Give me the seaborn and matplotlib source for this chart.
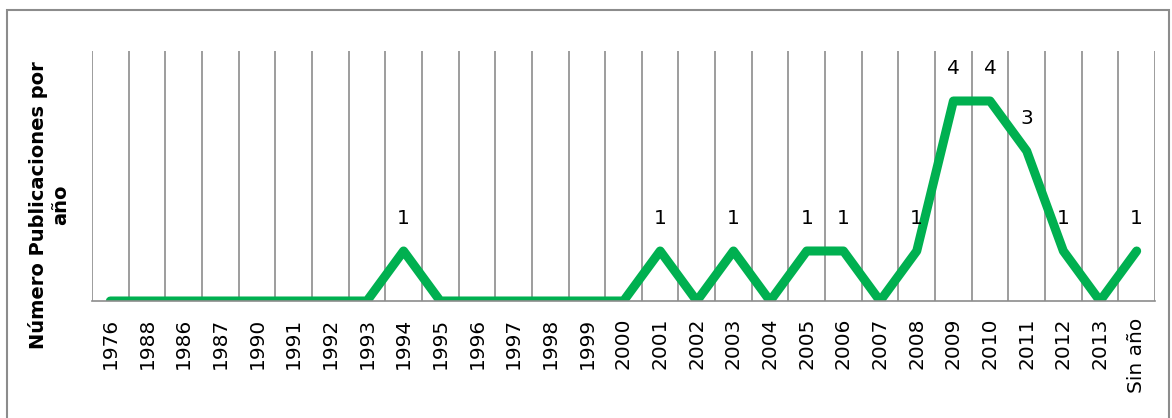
import matplotlib
matplotlib.use('Agg')
import matplotlib.pyplot as plt
import matplotlib.patches as patches
import numpy as np
import pandas as pd
import seaborn as sns

years = ['1976', '1988', '1986', '1987', '1990', '1991', '1992', '1993', '1994', '1995',
         '1996', '1997', '1998', '1999', '2000', '2001', '2002', '2003', '2004', '2005',
         '2006', '2007', '2008', '2009', '2010', '2011', '2012', '2013', 'Sin año']
counts = [0, 0, 0, 0, 0, 0, 0, 0, 1, 0,
          0, 0, 0, 0, 0, 1, 0, 1, 0, 1,
          1, 0, 1, 4, 4, 3, 1, 0, 1]

df = pd.DataFrame({'pos': np.arange(len(years)), 'count': counts})

sns.set_style('white')
plt.rcParams['font.family'] = ['DejaVu Sans']
plt.rcParams['text.color'] = 'black'
plt.rcParams['xtick.color'] = 'black'
plt.rcParams['axes.labelcolor'] = 'black'

fig = plt.figure(figsize=(11.72, 4.18), dpi=100)
ax = fig.add_axes([92 / 1172, 1 - 301 / 418, (1155 - 92) / 1172, (301 - 51) / 418])

sns.lineplot(data=df, x='pos', y='count', ax=ax, color='#00B050', linewidth=6.5,
             solid_capstyle='round', solid_joinstyle='round')

# data labels (zeros are not labelled)
for i, v in enumerate(counts):
    if v > 0:
        ax.annotate(str(v), (i, v), xytext=(0, 23.5), textcoords='offset points',
                    ha='center', va='center', fontsize=14.5, color='black')

ax.set_xlim(-0.5, len(years) - 0.5)
ax.set_ylim(0, 5)
ax.set_xticks(np.arange(len(years)))
ax.set_xticklabels(years, rotation=90, fontsize=14.5)
ax.set_xticks(np.arange(len(years) + 1) - 0.5, minor=True)
ax.set_yticks([])
ax.tick_params(axis='x', which='both', length=0, pad=12)
ax.grid(True, which='minor', axis='x', color='#8c8c8c', linewidth=1.2)
ax.grid(False, which='major')
ax.set_axisbelow(True)

for s in ['top', 'right', 'left']:
    ax.spines[s].set_visible(False)
ax.spines['bottom'].set_color('#8c8c8c')
ax.spines['bottom'].set_linewidth(1.2)

ax.set_xlabel('')
ax.set_ylabel('Número Publicaciones por\naño', fontsize=14, fontweight='bold')
ax.yaxis.set_label_coords(-0.021, 0.385)

# outer chart border
fig.patches.append(patches.Rectangle((7 / 1172, -0.05), (1169 - 7) / 1172, 1.05 - 10 / 418,
                                     transform=fig.transFigure, fill=False,
                                     edgecolor='#8c8c8c', linewidth=1.5))

fig.savefig('out.png', dpi=100)
